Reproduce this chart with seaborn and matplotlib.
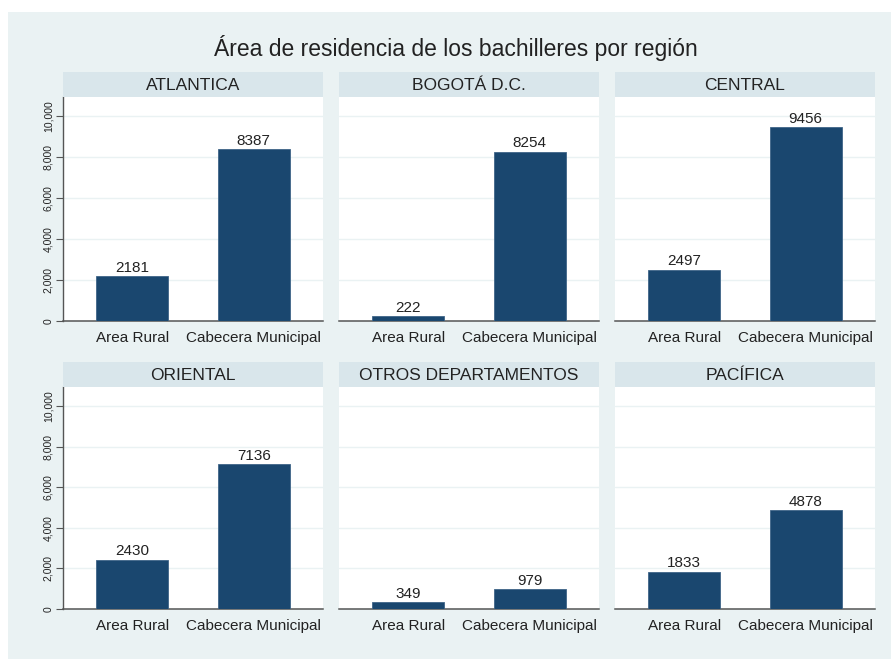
import pandas as pd
import matplotlib.pyplot as plt
import seaborn as sns
from matplotlib.patches import Rectangle
from matplotlib.ticker import FuncFormatter

sns.set_theme(style="white")
plt.rcParams["font.family"] = ["Liberation Sans", "DejaVu Sans"]

regions = ["ATLANTICA", "BOGOTÁ D.C.", "CENTRAL", "ORIENTAL", "OTROS DEPARTAMENTOS", "PACÍFICA"]
areas = ["Area Rural", "Cabecera Municipal"]
rural = [2181, 222, 2497, 2430, 349, 1833]
cabecera = [8387, 8254, 9456, 7136, 979, 4878]
y_ticks = [0, 2000, 4000, 6000, 8000, 10000]

df = pd.DataFrame({
    "region": regions * 2,
    "area": [areas[0]] * 6 + [areas[1]] * 6,
    "n": rural + cabecera,
})

BAR = "#1a476f"
OUTER = "#eaf2f3"
STRIP = "#d9e6eb"
TEXT = "#222222"
AXIS = "#555555"

W, H = 891, 659
fig = plt.figure(figsize=(W / 100, H / 100), dpi=100, facecolor="white")
fig.patches.append(Rectangle((8 / W, 0), 1, 1 - 12 / H, transform=fig.transFigure,
                             facecolor=OUTER, edgecolor="none", zorder=-10))

fig.text(456 / W, 1 - 48 / H, "Área de residencia de los bachilleres por región",
         ha="center", va="center", fontsize=16.5, color=TEXT)

lefts = [63, 339, 615]
width = 260
rows = [(97, 321, 72), (387, 609, 362)]

for i, reg in enumerate(regions):
    r, c = divmod(i, 3)
    top, bot, stop = rows[r]
    x0 = lefts[c]
    ax = fig.add_axes([x0 / W, 1 - bot / H, width / W, (bot - top) / H])
    sub = df[df["region"] == reg]
    sns.barplot(data=sub, x="area", y="n", order=areas, ax=ax, color=BAR,
                width=0.59, edgecolor="#3f6588", linewidth=0.6, saturation=1, zorder=3)
    ax.bar_label(ax.containers[0], fmt="%d", padding=1, fontsize=11, color=TEXT)
    ax.set_xlim(-0.57, 1.57)
    ax.set_ylim(0, 10930)
    ax.set_yticks(y_ticks)
    ax.yaxis.grid(True, color=OUTER, linewidth=1, zorder=0)
    ax.set_facecolor("white")
    ax.set_xlabel("")
    ax.set_ylabel("")
    for s in ["top", "right"]:
        ax.spines[s].set_visible(False)
    ax.spines["bottom"].set_color(AXIS)
    ax.spines["bottom"].set_linewidth(1.1)
    ax.tick_params(axis="x", length=0, labelsize=11, labelcolor=TEXT, pad=7)
    if c == 0:
        ax.spines["left"].set_color(AXIS)
        ax.spines["left"].set_linewidth(1.0)
        ax.tick_params(axis="y", left=True, length=5, width=0.8, color=AXIS,
                       labelsize=7.5, labelcolor=TEXT, labelrotation=90, pad=2)
        ax.yaxis.set_major_formatter(FuncFormatter(lambda v, p: f"{int(v):,}"))
        for lab in ax.get_yticklabels():
            lab.set_va("center")
    else:
        ax.spines["left"].set_visible(False)
        ax.tick_params(axis="y", left=False, labelleft=False)

    sax = fig.add_axes([x0 / W, 1 - top / H, width / W, (top - stop) / H])
    sax.set_facecolor(STRIP)
    sax.set_xticks([])
    sax.set_yticks([])
    for s in sax.spines.values():
        s.set_visible(False)
    sax.text(0.5, 0.45, reg, ha="center", va="center", fontsize=12.5, color=TEXT,
             transform=sax.transAxes)

fig.savefig("out.png", dpi=100, facecolor=fig.get_facecolor())
